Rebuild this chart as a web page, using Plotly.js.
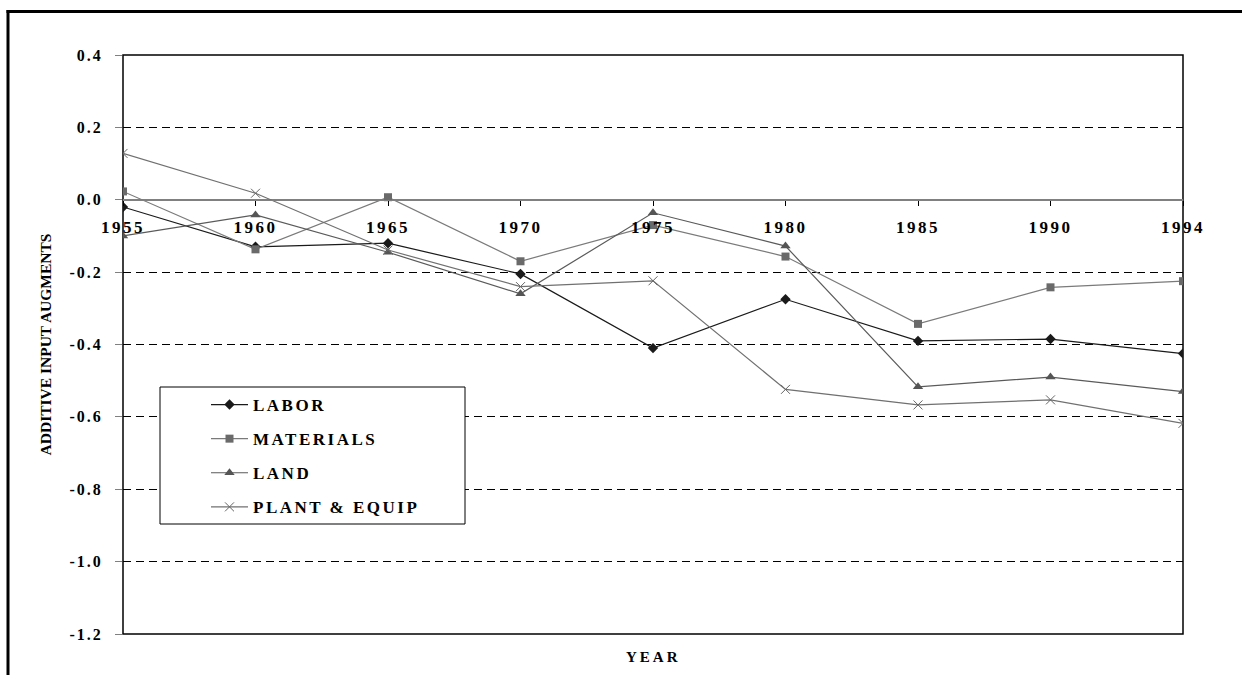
<!DOCTYPE html>
<html>
<head>
<meta charset="utf-8">
<script src="https://cdn.plot.ly/plotly-3.0.1.min.js"></script>
<style>
  html, body { margin: 0; padding: 0; background: #fff; overflow: hidden; }
  #chart { width: 1244px; height: 675px; }
  .xtick text { letter-spacing: 2.5px; }
  .ytick text { letter-spacing: 2px; }
  .legendtext { letter-spacing: 2.5px; }
  .annotation-text { letter-spacing: 3px; }
</style>
</head>
<body>
<div id="chart"></div>
<script>
// ---- data ----
const years = ['1955', '1960', '1965', '1970', '1975', '1980', '1985', '1990', '1994'];
const labor = [-0.020, -0.130, -0.120, -0.205, -0.410, -0.275, -0.390, -0.385, -0.425];
const materials = [0.023, -0.137, 0.007, -0.170, -0.070, -0.157, -0.343, -0.242, -0.225];
const land = [-0.100, -0.042, -0.145, -0.260, -0.036, -0.128, -0.517, -0.490, -0.530];
const plantEquip = [0.128, 0.018, -0.139, -0.240, -0.224, -0.524, -0.567, -0.553, -0.618];
const seriesNames = ['LABOR', 'MATERIALS', 'LAND', 'PLANT & EQUIP'];
const yTickVals = [0.4, 0.2, 0.0, -0.2, -0.4, -0.6, -0.8, -1.0, -1.2];
const yTickText = ['0.4', '0.2', '0.0', '-0.2', '-0.4', '-0.6', '-0.8', '-1.0', '-1.2'];
const xTitle = 'YEAR';
const yTitle = 'ADDITIVE INPUT AUGMENTS';

const serif = 'Liberation Serif, Times New Roman, serif';

const traces = [
  {
    x: years, y: labor, name: seriesNames[0], type: 'scatter', mode: 'lines+markers',
    legendgroup: 'a',
    line: { color: '#1a1a1a', width: 1.2 },
    marker: { symbol: 'diamond', size: 8, color: '#1a1a1a' }
  },
  {
    x: years, y: materials, name: seriesNames[1], type: 'scatter', mode: 'lines+markers',
    legendgroup: 'b',
    line: { color: '#7a7a7a', width: 1.2 },
    marker: { symbol: 'square', size: 8, color: '#6a6a6a' }
  },
  {
    x: years, y: land, name: seriesNames[2], type: 'scatter', mode: 'lines+markers',
    legendgroup: 'c',
    line: { color: '#5a5a5a', width: 1.2 },
    marker: { symbol: 'triangle-up', size: 9, color: '#555555' }
  },
  {
    x: years, y: plantEquip, name: seriesNames[3], type: 'scatter', mode: 'lines+markers',
    legendgroup: 'd',
    line: { color: '#707070', width: 1.2 },
    marker: { symbol: 'x-thin', size: 9, color: '#666666', line: { color: '#666666', width: 1 } }
  }
];

// pixel helpers for paper coordinates (plot area: x 123..1183, y 55..634)
const L = 123, R = 1183, T = 55, B = 634;
const px = v => (v - L) / (R - L);
const py = v => (B - v) / (B - T);

const layout = {
  width: 1244, height: 675,
  margin: { l: L, r: 1244 - R, t: T, b: 675 - B, pad: 0 },
  paper_bgcolor: '#ffffff',
  plot_bgcolor: '#ffffff',
  showlegend: true,
  font: { family: serif, color: '#000' },
  xaxis: {
    type: 'category',
    range: [0, 8],
    anchor: 'free',
    position: 0.75,
    showline: true, linecolor: '#808080', linewidth: 1.5,
    ticks: 'outside', ticklen: 5, tickcolor: '#000', tickwidth: 1,
    showgrid: false, zeroline: false,
    tickfont: { family: serif, size: 17, weight: 'bold', color: '#000' },
    ticklabelstandoff: 6,
    fixedrange: true
  },
  xaxis2: {
    overlaying: 'x',
    anchor: 'free',
    position: 0.75,
    range: [0, 8], tick0: 0, dtick: 1,
    ticks: 'inside', ticklen: 5, tickcolor: '#000', tickwidth: 1,
    showticklabels: false, showgrid: false, zeroline: false, showline: false
  },
  yaxis: {
    range: [-1.2, 0.4],
    tickmode: 'array', tickvals: yTickVals, ticktext: yTickText,
    ticks: 'outside', ticklen: 7, tickcolor: '#808080', tickwidth: 1,
    showline: false,
    showgrid: true, gridcolor: '#000', gridwidth: 1, griddash: '8px,5px',
    zeroline: true, zerolinecolor: '#808080', zerolinewidth: 1.5,
    tickfont: { family: serif, size: 16, weight: 'bold', color: '#000' },
    ticklabelstandoff: 9,
    title: { text: yTitle, font: { family: serif, size: 15.5, weight: 'bold', color: '#000' }, standoff: 14 },
    automargin: false,
    fixedrange: true
  },
  legend: {
    x: px(206), y: py(387), xanchor: 'left', yanchor: 'top',
    bgcolor: 'rgba(0,0,0,0)', borderwidth: 0,
    traceorder: 'grouped', tracegroupgap: 9,
    itemwidth: 37,
    font: { family: serif, size: 17, weight: 'bold', color: '#000' }
  },
  annotations: [
    { text: xTitle, xref: 'paper', yref: 'paper', x: 0.5, y: py(657), xanchor: 'center', yanchor: 'middle',
      showarrow: false, font: { family: serif, size: 15, weight: 'bold', color: '#000' } }
  ],
  shapes: [
    // plot area border
    { type: 'rect', xref: 'paper', yref: 'paper', x0: 0, x1: 1, y0: 0, y1: 1,
      line: { color: '#000', width: 1.5 }, layer: 'below' },
    // legend box
    { type: 'rect', xref: 'paper', yref: 'paper', x0: px(160), x1: px(465), y0: py(524), y1: py(387),
      line: { color: '#000', width: 1 }, fillcolor: '#ffffff', layer: 'above' },
    // outer frame (top and left edges)
    { type: 'line', xref: 'paper', yref: 'paper', x0: px(6.5), x1: px(1242), y0: py(11.5), y1: py(11.5),
      line: { color: '#000', width: 3 } },
    { type: 'line', xref: 'paper', yref: 'paper', x0: px(8), x1: px(8), y0: py(10), y1: py(675),
      line: { color: '#000', width: 3 } }
  ]
};

Plotly.newPlot('chart', traces, layout, { displayModeBar: false, staticPlot: true });
</script>
</body>
</html>
